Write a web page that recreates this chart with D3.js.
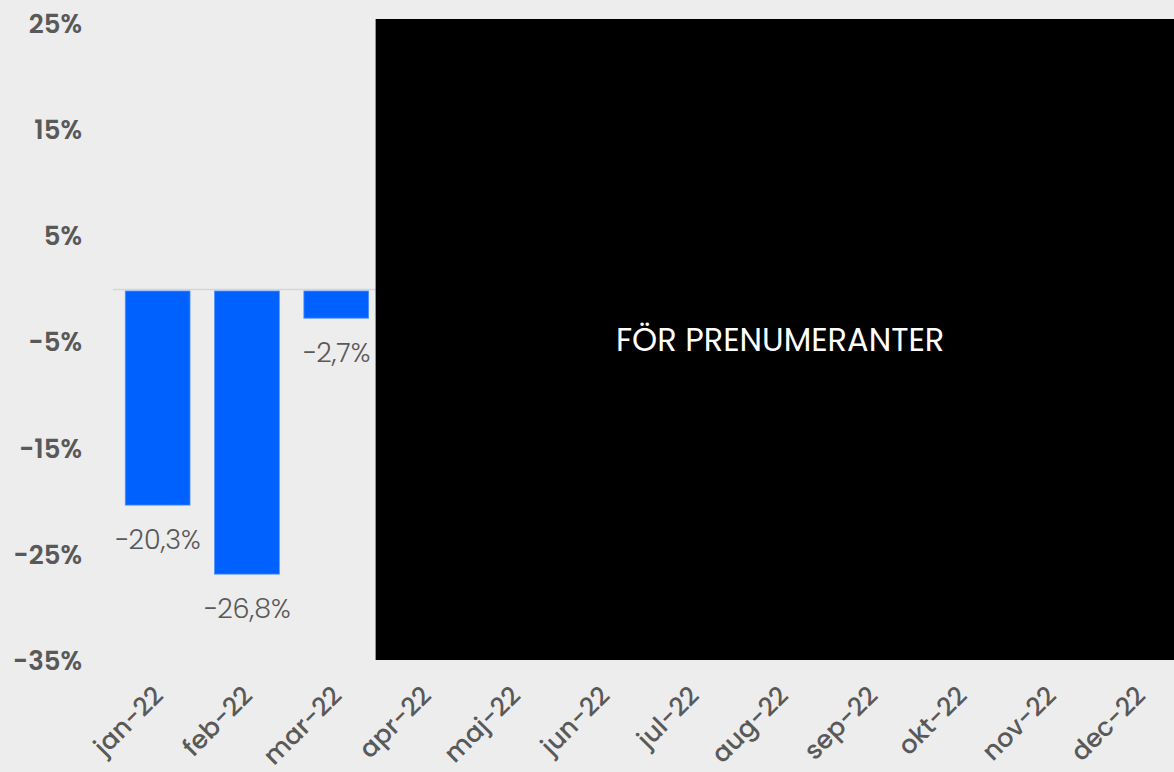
<!DOCTYPE html>
<html>
<head>
<meta charset="utf-8">
<script src="https://cdn.jsdelivr.net/npm/d3@7"></script>
<style>
  html, body { margin: 0; padding: 0; background: #ededed; }
  svg { display: block; font-family: Poppins, Inter, "Noto Sans", sans-serif; }
</style>
</head>
<body>
<svg id="chart" width="1174" height="772"></svg>
<script>
// Monthly change, 2022 (percent)
const months = ["jan-22", "feb-22", "mar-22", "apr-22", "maj-22", "jun-22",
                "jul-22", "aug-22", "sep-22", "okt-22", "nov-22", "dec-22"];
const values = [-20.3, -26.8, -2.7, null, null, null, null, null, null, null, null, null];
const yTicks = [25, 15, 5, -5, -15, -25, -35];
const overlayText = "FÖR PRENUMERANTER";

const W = 1174, H = 772;
const svg = d3.select("#chart");
const fmt = v => d3.format(".1f")(v).replace("-", "−").replace(".", ",") + "%";
const tickFmt = v => (v < 0 ? "-" : "") + Math.abs(v) + "%";

const x = d3.scaleBand()
  .domain(months)
  .range([113, 113 + 12 * 89.3])
  .paddingInner(0.275)
  .paddingOuter(0.1375);

const y = d3.scaleLinear()
  .domain([-35, 25])
  .range([661.2, 24]);

// y axis labels
const yAxis = d3.axisLeft(y).tickValues(yTicks).tickFormat(tickFmt).tickSize(0).tickPadding(0);
const gy = svg.append("g").attr("transform", "translate(82,0)").call(yAxis);
gy.select(".domain").remove();
gy.selectAll("text")
  .attr("fill", "#595959")
  .attr("font-size", 26)
  .attr("font-weight", 600)
  .attr("font-family", "Poppins, Inter, sans-serif");

// zero line
svg.append("line")
  .attr("x1", 113).attr("x2", 376)
  .attr("y1", y(0)).attr("y2", y(0))
  .attr("stroke", "#d6d6d6").attr("stroke-width", 1.5);

const data = months.map((m, i) => ({ m, v: values[i] })).filter(d => d.v !== null);

// bars
svg.append("g").selectAll("rect").data(data).join("rect")
  .attr("x", d => x(d.m))
  .attr("width", x.bandwidth())
  .attr("y", d => y(Math.max(0, d.v)) + 1.5)
  .attr("height", d => Math.abs(y(d.v) - y(0)) - 1.5)
  .attr("fill", "#0061ff")
  .attr("stroke", "#4d8fff")
  .attr("stroke-width", 0.8);

// value labels below bars
svg.append("g").selectAll("text").data(data).join("text")
  .attr("x", d => x(d.m) + x.bandwidth() / 2)
  .attr("y", d => y(d.v) + 34)
  .attr("text-anchor", "middle")
  .attr("dominant-baseline", "central")
  .attr("fill", "#595959")
  .attr("font-size", 27)
  .attr("font-weight", 300)
  .text(d => fmt(d.v));

// x axis labels, rotated
const xAxis = d3.axisBottom(x).tickSize(0).tickPadding(0);
const gx = svg.append("g").call(xAxis);
gx.select(".domain").remove();
gx.selectAll(".tick text")
  .attr("fill", "#595959")
  .attr("font-size", 25.5)
  .attr("font-weight", 500)
  .attr("font-family", "Poppins, Inter, sans-serif")
  .attr("text-anchor", "end")
  .attr("dy", null)
  .attr("y", 0)
  .attr("transform", "translate(7,697) rotate(-45)");

// subscriber overlay, spanning the remaining months
const boxX = x("mar-22") + x.bandwidth() + 7;
const boxR = x.range()[1];
svg.append("rect")
  .attr("x", boxX).attr("y", 19)
  .attr("width", boxR - boxX).attr("height", 641)
  .attr("fill", "#000");
svg.append("text")
  .attr("x", (boxX + boxR) / 2).attr("y", 339)
  .attr("text-anchor", "middle")
  .attr("dominant-baseline", "central")
  .attr("fill", "#fff")
  .attr("font-size", 32)
  .attr("font-weight", 400)
  .text(overlayText);
</script>
</body>
</html>
